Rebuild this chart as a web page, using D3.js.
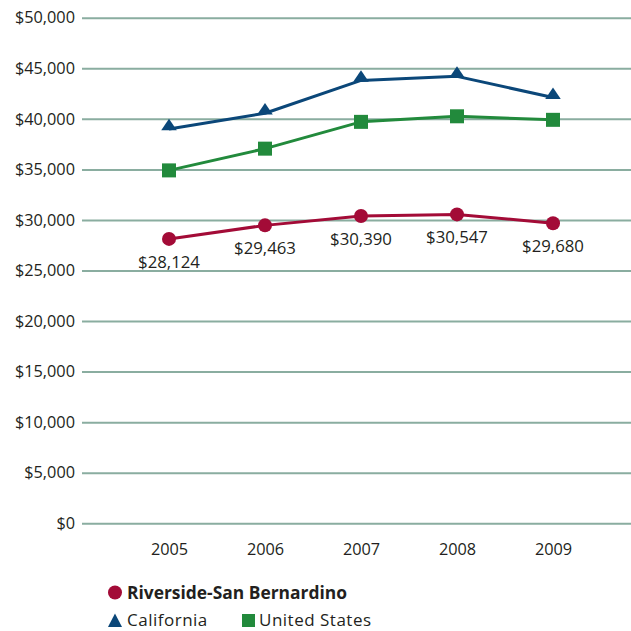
<!DOCTYPE html>
<html>
<head>
<meta charset="utf-8">
<script src="https://cdn.jsdelivr.net/npm/d3@7"></script>
<style>
  html, body { margin: 0; padding: 0; background: #fff; }
  svg { display: block; font-family: "Open Sans", "Noto Sans", sans-serif; }
</style>
</head>
<body>
<svg id="chart" width="631" height="631"></svg>
<script>
const years = ["2005", "2006", "2007", "2008", "2009"];
const riverside = [28124, 29463, 30390, 30547, 29680];
const california = [39000, 40550, 43800, 44200, 42100];
const unitedStates = [34900, 37050, 39700, 40250, 39900];
const yTicks = [0, 5000, 10000, 15000, 20000, 25000, 30000, 35000, 40000, 45000, 50000];
const seriesNames = ["Riverside-San Bernardino", "California", "United States"];

const colors = { riverside: "#a30b37", california: "#0b4779", us: "#228a3c", grid: "#8aada0", text: "#231f20" };

const svg = d3.select("#chart");
const x = d3.scalePoint().domain(years).range([169, 553]);
const y = d3.scaleLinear().domain([0, 50000]).range([523.3, 17.7]);

// gridlines
const yAxis = d3.axisLeft(y).tickValues(yTicks)
  .tickFormat(d => "$" + d3.format(",")(d))
  .tickSize(-(631 - 82)).tickPadding(7);
const gy = svg.append("g").attr("transform", "translate(82,0)").call(yAxis);
gy.select(".domain").remove();
gy.selectAll(".tick line").attr("stroke", colors.grid).attr("stroke-width", 2);
gy.selectAll(".tick text").attr("fill", colors.text).attr("font-size", 16.3)
  .attr("font-family", "'Open Sans', sans-serif");

// x axis labels
const xAxis = d3.axisBottom(x).tickSize(0).tickPadding(0);
const gx = svg.append("g").attr("transform", "translate(0,543)").call(xAxis);
gx.select(".domain").remove();
gx.selectAll(".tick text").attr("fill", colors.text).attr("font-size", 16.3)
  .attr("font-family", "'Open Sans', sans-serif");

const line = d3.line().x((d, i) => x(years[i])).y(d => y(d));

function drawLine(data, color) {
  svg.append("path").datum(data).attr("d", line)
    .attr("fill", "none").attr("stroke", color).attr("stroke-width", 3)
    .attr("stroke-linejoin", "round");
}

// United States
drawLine(unitedStates, colors.us);
svg.append("g").selectAll("rect").data(unitedStates).join("rect")
  .attr("x", (d, i) => x(years[i]) - 7).attr("y", d => y(d) - 7)
  .attr("width", 14).attr("height", 14).attr("fill", colors.us);

// California
drawLine(california, colors.california);
const tri = d3.symbol().type(d3.symbolTriangle).size(95);
svg.append("g").selectAll("path").data(california).join("path")
  .attr("d", tri)
  .attr("transform", (d, i) => `translate(${x(years[i])},${y(d) - 2.5}) scale(1.05,0.9)`)
  .attr("fill", colors.california);

// Riverside
drawLine(riverside, colors.riverside);
svg.append("g").selectAll("circle").data(riverside).join("circle")
  .attr("cx", (d, i) => x(years[i])).attr("cy", d => y(d))
  .attr("r", 7).attr("fill", colors.riverside);
svg.append("g").selectAll("text").data(riverside).join("text")
  .attr("x", (d, i) => x(years[i])).attr("y", d => y(d) + 29)
  .attr("text-anchor", "middle").attr("font-size", 16.8).attr("fill", colors.text)
  .text(d => "$" + d3.format(",")(d));

// Legend
const lg = svg.append("g");
lg.append("circle").attr("cx", 115).attr("cy", 592.5).attr("r", 7).attr("fill", colors.riverside);
lg.append("text").attr("x", 127).attr("y", 599).attr("font-size", 17.4).attr("font-weight", "bold")
  .attr("fill", colors.text).text(seriesNames[0]);
lg.append("path").attr("d", tri).attr("transform", "translate(115,622.5) scale(0.95,1.05)").attr("fill", colors.california);
lg.append("text").attr("x", 127).attr("y", 625.5).attr("font-size", 17).attr("letter-spacing", 0.5)
  .attr("fill", colors.text).text(seriesNames[1]);
lg.append("rect").attr("x", 242).attr("y", 614).attr("width", 13).attr("height", 13).attr("fill", colors.us);
lg.append("text").attr("x", 259).attr("y", 625.5).attr("font-size", 17).attr("letter-spacing", 0.5)
  .attr("fill", colors.text).text(seriesNames[2]);
</script>
</body>
</html>
